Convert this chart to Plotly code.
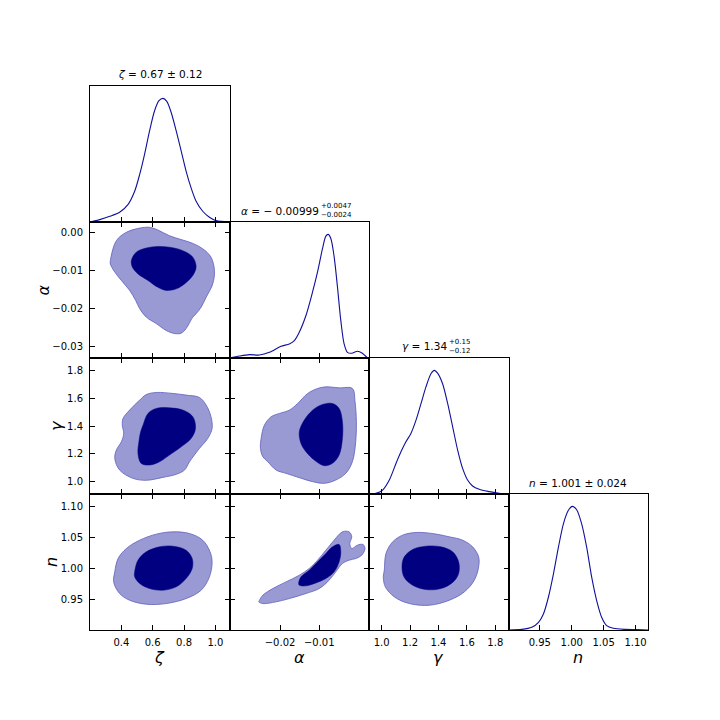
import plotly.graph_objects as go

# ---------------- data ----------------
# 1D marginal densities (normalised to peak = 1)
zeta_1d_x = [0.203, 0.262, 0.326, 0.389, 0.442, 0.485, 0.517, 0.548, 0.580, 0.612, 0.640, 0.665,
             0.690, 0.718, 0.750, 0.782, 0.813, 0.845, 0.877, 0.919, 0.962, 1.004, 1.089]
zeta_1d_y = [0.0, 0.019, 0.046, 0.079, 0.141, 0.249, 0.385, 0.547, 0.737, 0.900, 0.981, 1.000,
             0.976, 0.886, 0.737, 0.574, 0.412, 0.276, 0.168, 0.087, 0.038, 0.011, 0.0]

alpha_1d_x = [-0.03287, -0.03033, -0.02779, -0.02525, -0.02271, -0.01975, -0.01763, -0.01636,
              -0.01509, -0.01339, -0.01170, -0.01043, -0.00916, -0.00831, -0.00772, -0.00704,
              -0.00619, -0.00535, -0.00450, -0.00365, -0.00281, -0.00170, -0.00026, 0.00101, 0.00228]
alpha_1d_y = [0.0, 0.016, 0.027, 0.024, 0.046, 0.095, 0.114, 0.141, 0.209, 0.344, 0.534, 0.696,
              0.886, 0.986, 1.000, 0.967, 0.818, 0.575, 0.304, 0.114, 0.046, 0.038, 0.054, 0.038, 0.0]

gamma_1d_x = [0.913, 0.960, 1.007, 1.054, 1.101, 1.136, 1.171, 1.206, 1.242, 1.277, 1.312, 1.347,
              1.371, 1.394, 1.429, 1.465, 1.500, 1.535, 1.570, 1.605, 1.640, 1.687, 1.758, 1.828, 1.890]
gamma_1d_y = [0.0, 0.005, 0.032, 0.113, 0.247, 0.341, 0.422, 0.489, 0.597, 0.731, 0.866, 0.973,
              1.000, 0.978, 0.892, 0.731, 0.543, 0.355, 0.207, 0.113, 0.065, 0.038, 0.019, 0.005, 0.0]

n_1d_x = [0.901, 0.922, 0.9375, 0.948, 0.9557, 0.9635, 0.9714, 0.9792, 0.987, 0.9948, 1.001,
          1.0078, 1.0156, 1.0234, 1.0313, 1.0391, 1.0469, 1.0547, 1.0651, 1.0833, 1.1016, 1.1198]
n_1d_y = [0.0, 0.005, 0.022, 0.062, 0.130, 0.265, 0.454, 0.670, 0.859, 0.968, 1.000,
          0.973, 0.859, 0.670, 0.427, 0.238, 0.103, 0.035, 0.014, 0.005, 0.003, 0.0]

# 2D credible-region boundaries (outer = 95%, inner = 68%)
zeta_alpha_outer_x = [0.330, 0.368, 0.432, 0.517, 0.580, 0.633, 0.707, 0.782, 0.856, 0.919, 0.972,
                      0.994, 0.983, 0.941, 0.909, 0.877, 0.856, 0.813, 0.782, 0.739, 0.686, 0.623,
                      0.559, 0.517, 0.491, 0.453, 0.400, 0.358, 0.330]
zeta_alpha_outer_y = [-0.0074, -0.0022, 0.0000, 0.0011, 0.0013, 0.0006, -0.0009, -0.0019, -0.0029,
                      -0.0043, -0.0065, -0.0100, -0.0135, -0.0170, -0.0196, -0.0213, -0.0222, -0.0252,
                      -0.0264, -0.0265, -0.0257, -0.0239, -0.0222, -0.0200, -0.0178, -0.0152, -0.0126,
                      -0.0104, -0.0083]
zeta_alpha_inner_x = [0.464, 0.495, 0.559, 0.633, 0.707, 0.792, 0.856, 0.877, 0.856, 0.803, 0.750,
                      0.686, 0.633, 0.570, 0.506, 0.470]
zeta_alpha_inner_y = [-0.0074, -0.0052, -0.0041, -0.0037, -0.0039, -0.0048, -0.0065, -0.0091, -0.0113,
                      -0.0135, -0.0148, -0.0152, -0.0144, -0.0126, -0.0109, -0.0091]

zeta_gamma_outer_x = [0.411, 0.453, 0.517, 0.559, 0.623, 0.729, 0.813, 0.898, 0.941, 0.972, 0.979,
                      0.951, 0.898, 0.835, 0.803, 0.750, 0.665, 0.559, 0.474, 0.389, 0.358, 0.368,
                      0.400, 0.415, 0.406]
zeta_gamma_outer_y = [1.457, 1.517, 1.589, 1.629, 1.644, 1.637, 1.625, 1.608, 1.553, 1.469, 1.384,
                      1.312, 1.240, 1.144, 1.084, 1.053, 1.031, 1.010, 1.024, 1.084, 1.168, 1.228,
                      1.288, 1.348, 1.408]
zeta_gamma_inner_x = [0.538, 0.570, 0.623, 0.707, 0.792, 0.856, 0.873, 0.845, 0.782, 0.707, 0.644,
                      0.580, 0.527, 0.506, 0.512, 0.523]
zeta_gamma_inner_y = [1.408, 1.493, 1.529, 1.533, 1.517, 1.469, 1.384, 1.312, 1.252, 1.192, 1.144,
                      1.120, 1.132, 1.204, 1.288, 1.360]

zeta_n_outer_x = [0.358, 0.379, 0.432, 0.517, 0.623, 0.729, 0.835, 0.919, 0.966, 0.979, 0.962,
                  0.909, 0.813, 0.686, 0.559, 0.453, 0.389, 0.351]
zeta_n_outer_y = [0.9944, 1.0158, 1.0319, 1.0453, 1.0550, 1.0587, 1.0560, 1.0453, 1.0266, 1.0105,
                  0.9864, 0.9649, 0.9515, 0.9435, 0.9424, 0.9488, 0.9596, 0.9783]
zeta_n_inner_x = [0.485, 0.506, 0.559, 0.644, 0.729, 0.813, 0.852, 0.852, 0.813, 0.750, 0.665,
                  0.580, 0.517, 0.485]
zeta_n_inner_y = [0.9944, 1.0132, 1.0266, 1.0346, 1.0357, 1.0292, 1.0158, 0.9998, 0.9837, 0.9703,
                  0.9649, 0.9676, 0.9756, 0.9864]

alpha_gamma_outer_x = [-0.02483, -0.02398, -0.02229, -0.02017, -0.01763, -0.01551, -0.01297, -0.01043,
                       -0.00831, -0.00492, -0.00154, -0.00086, -0.00052, -0.00069, -0.00154, -0.00323,
                       -0.00577, -0.00873, -0.01170, -0.01509, -0.01848, -0.02102, -0.02313, -0.02440,
                       -0.02500]
alpha_gamma_outer_y = [1.3124, 1.4085, 1.4685, 1.4926, 1.5166, 1.5646, 1.6367, 1.6727, 1.6847, 1.6775,
                       1.6727, 1.5766, 1.4325, 1.2884, 1.1442, 1.0602, 1.0121, 0.9881, 1.0001, 1.0289,
                       1.0602, 1.0842, 1.1442, 1.1803, 1.2403]
alpha_gamma_inner_x = [-0.01509, -0.01382, -0.01170, -0.00916, -0.00662, -0.00492, -0.00408, -0.00408,
                       -0.00492, -0.00662, -0.00873, -0.01128, -0.01339, -0.01466]
alpha_gamma_inner_y = [1.3604, 1.4445, 1.5166, 1.5574, 1.5646, 1.5286, 1.4325, 1.3124, 1.1923, 1.1322,
                       1.1154, 1.1563, 1.2163, 1.2764]

alpha_n_outer_x = [-0.02525, -0.02440, -0.02186, -0.01848, -0.01509, -0.01255, -0.01043, -0.00831,
                   -0.00619, -0.00408, -0.00238, -0.00170, -0.00221, -0.00170, -0.00026, 0.00118,
                   0.00168, 0.00084, -0.00069, -0.00238, -0.00408, -0.00577, -0.00789, -0.01001,
                   -0.01339, -0.01763, -0.02102, -0.02440, -0.02542]
alpha_n_outer_y = [0.9488, 0.9569, 0.9676, 0.9783, 0.9890, 0.9998, 1.0132, 1.0292, 1.0453, 1.0587,
                   1.0587, 1.0507, 1.0400, 1.0319, 1.0373, 1.0384, 1.0319, 1.0212, 1.0158, 1.0132,
                   1.0078, 0.9944, 0.9783, 0.9676, 0.9596, 0.9515, 0.9462, 0.9435, 0.9462]
alpha_n_inner_x = [-0.01526, -0.01466, -0.01255, -0.01043, -0.00831, -0.00662, -0.00492, -0.00450,
                   -0.00492, -0.00619, -0.00831, -0.01085, -0.01339, -0.01509]
alpha_n_inner_y = [0.9756, 0.9864, 0.9971, 1.0105, 1.0239, 1.0346, 1.0384, 1.0266, 1.0105, 0.9944,
                   0.9837, 0.9767, 0.9719, 0.9730]

gamma_n_outer_x = [1.0188, 1.0305, 1.0774, 1.1478, 1.2416, 1.3589, 1.4762, 1.5701, 1.6405, 1.6827,
                   1.6827, 1.6522, 1.5818, 1.4762, 1.3355, 1.1947, 1.0891, 1.0258, 1.0117]
gamma_n_outer_y = [0.9971, 1.0239, 1.0426, 1.0534, 1.0577, 1.0560, 1.0507, 1.0453, 1.0346, 1.0185,
                   1.0024, 0.9810, 0.9622, 0.9488, 0.9408, 0.9435, 0.9542, 0.9703, 0.9864]
gamma_n_inner_x = [1.1431, 1.1595, 1.2182, 1.3120, 1.4176, 1.4997, 1.5419, 1.5419, 1.5044, 1.4176,
                   1.3120, 1.2182, 1.1595]
gamma_n_inner_y = [1.0024, 1.0185, 1.0303, 1.0357, 1.0346, 1.0266, 1.0105, 0.9917, 0.9783, 0.9676,
                   0.9660, 0.9730, 0.9853]

# axis labels, ticks and titles
param_labels = ["ζ", "α", "γ", "n"]
zeta_ticks = [0.4, 0.6, 0.8, 1.0]
zeta_ticktext = ["0.4", "0.6", "0.8", "1.0"]
alpha_xticks = [-0.02, -0.01]
alpha_xticktext = ["−0.02", "−0.01"]
alpha_yticks = [0.0, -0.01, -0.02, -0.03]
alpha_yticktext = ["0.00", "−0.01", "−0.02", "−0.03"]
gamma_ticks = [1.0, 1.2, 1.4, 1.6, 1.8]
gamma_ticktext = ["1.0", "1.2", "1.4", "1.6", "1.8"]
n_ticks = [0.95, 1.00, 1.05, 1.10]
n_ticktext = ["0.95", "1.00", "1.05", "1.10"]

# ---------------- layout / style ----------------
W = H = 720
FONT = "DejaVu Sans"
col_edges = [90, 229.5, 369, 508.5, 648]
row_edges = [86, 222, 358, 494, 630]
ranges = [[0.2, 1.09], [-0.0329, 0.0027], [0.911, 1.893], [0.901, 1.1195]]
xticks = [(zeta_ticks, zeta_ticktext), (alpha_xticks, alpha_xticktext),
          (gamma_ticks, gamma_ticktext), (n_ticks, n_ticktext)]
yticks = [(zeta_ticks, zeta_ticktext), (alpha_yticks, alpha_yticktext),
          (gamma_ticks, gamma_ticktext), (n_ticks, n_ticktext)]

OUTER_FILL = "rgb(153,153,212)"
OUTER_LINE = "rgb(95,95,190)"
INNER_FILL = "#000080"
LINE_1D = "#10109a"

oned = {0: (zeta_1d_x, zeta_1d_y), 1: (alpha_1d_x, alpha_1d_y),
        2: (gamma_1d_x, gamma_1d_y), 3: (n_1d_x, n_1d_y)}
twod = {
    (1, 0): (zeta_alpha_outer_x, zeta_alpha_outer_y, zeta_alpha_inner_x, zeta_alpha_inner_y),
    (2, 0): (zeta_gamma_outer_x, zeta_gamma_outer_y, zeta_gamma_inner_x, zeta_gamma_inner_y),
    (3, 0): (zeta_n_outer_x, zeta_n_outer_y, zeta_n_inner_x, zeta_n_inner_y),
    (2, 1): (alpha_gamma_outer_x, alpha_gamma_outer_y, alpha_gamma_inner_x, alpha_gamma_inner_y),
    (3, 1): (alpha_n_outer_x, alpha_n_outer_y, alpha_n_inner_x, alpha_n_inner_y),
    (3, 2): (gamma_n_outer_x, gamma_n_outer_y, gamma_n_inner_x, gamma_n_inner_y),
}


def closed(a):
    return list(a) + [a[0]]


fig = go.Figure()
layout = dict(width=W, height=H, margin=dict(l=0, r=0, t=0, b=0),
              paper_bgcolor="white", plot_bgcolor="white", showlegend=False,
              font=dict(family=FONT, size=10, color="black"))

k = 0
for r in range(4):
    for c in range(r + 1):
        k += 1
        xa = "x" if k == 1 else f"x{k}"
        ya = "y" if k == 1 else f"y{k}"
        xdom = [col_edges[c] / W, col_edges[c + 1] / W]
        ydom = [1 - row_edges[r + 1] / H, 1 - row_edges[r] / H]
        bottom = (r == 3)
        xax = dict(domain=xdom, range=ranges[c], anchor=ya, showgrid=False, zeroline=False,
                   showline=True, linecolor="black", linewidth=1,
                   ticks="inside", ticklen=5, tickwidth=1, tickcolor="black",
                   tickvals=xticks[c][0], ticktext=xticks[c][1],
                   showticklabels=bottom, ticklabelstandoff=3,
                   tickfont=dict(family=FONT, size=10, color="black"))
        if r == c:
            xax["mirror"] = True
            yax = dict(domain=ydom, range=[0, 1.1], anchor=xa, showgrid=False, zeroline=False,
                       showline=True, mirror=True, linecolor="black", linewidth=1,
                       ticks="", showticklabels=False)
            x1, y1 = oned[c]
            fig.add_trace(go.Scatter(x=x1, y=y1, mode="lines", xaxis=xa, yaxis=ya,
                                     line=dict(color=LINE_1D, width=1.1, shape="spline", smoothing=0.8),
                                     hoverinfo="skip"))
        else:
            xax["mirror"] = "ticks"
            yax = dict(domain=ydom, range=ranges[r], anchor=xa, showgrid=False, zeroline=False,
                       showline=True, mirror="ticks", linecolor="black", linewidth=1,
                       ticks="inside", ticklen=5, tickwidth=1, tickcolor="black",
                       tickvals=yticks[r][0], ticktext=yticks[r][1],
                       showticklabels=(c == 0), ticklabelstandoff=4,
                       tickfont=dict(family=FONT, size=10, color="black"))
            ox, oy, ix, iy = twod[(r, c)]
            fig.add_trace(go.Scatter(x=closed(ox), y=closed(oy), mode="lines", fill="toself",
                                     fillcolor=OUTER_FILL, xaxis=xa, yaxis=ya,
                                     line=dict(color=OUTER_LINE, width=0.8, shape="spline", smoothing=1.0),
                                     hoverinfo="skip"))
            fig.add_trace(go.Scatter(x=closed(ix), y=closed(iy), mode="lines", fill="toself",
                                     fillcolor=INNER_FILL, xaxis=xa, yaxis=ya,
                                     line=dict(color=INNER_FILL, width=0.5, shape="spline", smoothing=1.0),
                                     hoverinfo="skip"))
        layout["xaxis" if k == 1 else f"xaxis{k}"] = xax
        layout["yaxis" if k == 1 else f"yaxis{k}"] = yax


def px(x):
    return x / W


def py(y):
    return 1 - y / H


def note(text, x, y, size, xanchor="center", angle=0, align="center"):
    return dict(text=text, x=px(x), y=py(y), xref="paper", yref="paper", showarrow=False,
                xanchor=xanchor, yanchor="middle", textangle=angle, borderpad=0, align=align,
                font=dict(family=FONT, size=size, color="black"))


ann = []
# axis titles
x_title_pos = [159.5, 299, 438.5, 578]
for i, lab in enumerate(param_labels):
    ann.append(note(f"<i>{lab}</i>", x_title_pos[i], 657, 16))
y_title_pos = [(42.5, 290), (56, 426), (51, 562)]
for i, lab in enumerate(param_labels[1:]):
    xx, yy = y_title_pos[i]
    ann.append(note(f"<i>{lab}</i>", xx, yy, 16, angle=-90))

# marginal titles
ann.append(note("<i>ζ</i> = 0.67 ± 0.12", 159.5, 74, 10.5))
ann.append(note("<i>n</i> = 1.001 ± 0.024", 578, 483, 10.5))
# α title with stacked errors
ann.append(note("<i>α</i> = − 0.00999", 319.5, 211, 10.5, xanchor="right"))
ann.append(note("+0.0047<br>−0.0024", 319.5, 210, 7, xanchor="left", align="left"))
# γ title with stacked errors
ann.append(note("<i>γ</i> = 1.34", 447.5, 346.5, 10.5, xanchor="right"))
ann.append(note("+0.15<br>−0.12", 447.5, 346, 7, xanchor="left", align="left"))

layout["annotations"] = ann
fig.update_layout(**layout)
fig.write_html("out.html", config={"displayModeBar": False},
               post_script="document.body.style.margin='0';document.body.style.overflow='hidden';")
